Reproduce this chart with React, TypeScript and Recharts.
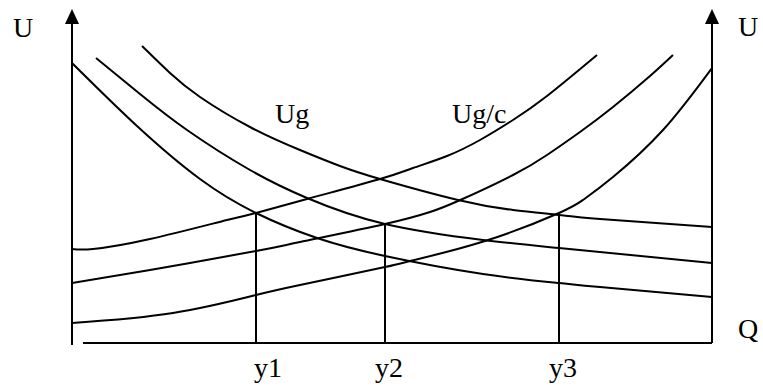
import React from "react";
import { ComposedChart, Line, XAxis, YAxis, ReferenceLine, ReferenceDot } from "recharts";

// Q runs 0..640 along the bottom axis, U runs 0..334 up the vertical axes
// Ug family (falling curves)
const ug1Q = [0, 65, 128, 184, 245, 313, 411, 487, 528, 640];
const ug1U = [280, 217, 164, 130, 105, 87, 69, 60, 56, 46];
const ug2Q = [24, 68, 115, 178, 235, 313, 411, 487, 640];
const ug2U = [285, 249, 213, 173, 145, 119, 103, 95, 80];
const ug3Q = [70, 98, 128, 178, 228, 268, 308, 386, 441, 487, 528, 640];
const ug3U = [297, 270, 246, 216, 193, 177, 164, 143, 133, 128, 124, 116];

// Ug/c family (rising curves)
const ugc1Q = [0, 21, 78, 155, 184, 235, 308, 341, 375, 408, 441, 475, 525];
const ugc1U = [94, 94, 104, 123, 130, 144, 164, 175, 187, 203, 223, 247, 288];
const ugc2Q = [0, 78, 184, 228, 313, 358, 386, 441, 475, 508, 541, 578, 601];
const ugc2U = [60, 73, 92, 101, 119, 131, 142, 168, 188, 211, 236, 267, 288];
const ugc3Q = [0, 101, 184, 228, 313, 338, 413, 487, 511, 541, 591, 640];
const ugc3U = [20, 30, 48, 58, 76, 82, 102, 130, 143, 166, 213, 275];

// equilibrium points y1, y2, y3
const dropLabels = ["y1", "y2", "y3"];
const dropQ = [184, 313, 487];
const dropU = [130, 119, 129];

const toRows = (qs: number[], us: number[]) => qs.map((q, i) => ({ q, u: us[i] }));

const curves = [
  toRows(ug1Q, ug1U),
  toRows(ug2Q, ug2U),
  toRows(ug3Q, ug3U),
  toRows(ugc1Q, ugc1U),
  toRows(ugc2Q, ugc2U),
  toRows(ugc3Q, ugc3U),
];

const FONT = "'Liberation Serif', 'Times New Roman', serif";

const textShape = (txt: string, anchor: "start" | "middle" = "start") => (p: any) => (
  <text x={p.cx} y={p.cy} textAnchor={anchor} fontFamily={FONT} fontSize={28} fill="#000">
    {txt}
  </text>
);

const arrowShape = (p: any) => (
  <polygon
    points={`${p.cx},${p.cy} ${p.cx - 7},${p.cy + 15} ${p.cx + 7},${p.cy + 15}`}
    fill="#000"
  />
);

// label centres under the drop lines
const labelQ = [196, 317, 491];

export default function App() {
  return (
    <div style={{ position: "absolute", left: 0, top: 0, width: 763, height: 387, background: "#fff" }}>
      <ComposedChart width={763} height={387} margin={{ top: 9, right: 51, bottom: 44, left: 72 }}>
        <XAxis type="number" dataKey="q" domain={[0, 640]} hide allowDataOverflow />
        <YAxis yAxisId="left" type="number" domain={[0, 334]} hide allowDataOverflow />

        {/* the two U axes and the Q axis */}
        <ReferenceLine
          yAxisId="left"
          segment={[{ x: 0, y: -2 }, { x: 0, y: 322 }]}
          stroke="#000"
          strokeWidth={2}
          ifOverflow="visible"
        />
        <ReferenceLine
          yAxisId="left"
          segment={[{ x: 640, y: 0 }, { x: 640, y: 322 }]}
          stroke="#000"
          strokeWidth={2}
          ifOverflow="visible"
        />
        <ReferenceLine
          yAxisId="left"
          segment={[{ x: 11, y: 0 }, { x: 640, y: 0 }]}
          stroke="#000"
          strokeWidth={2}
          ifOverflow="visible"
        />

        {dropQ.map((q, i) => (
          <ReferenceLine
            key={dropLabels[i]}
            yAxisId="left"
            segment={[{ x: q, y: 0 }, { x: q, y: dropU[i] }]}
            stroke="#000"
            strokeWidth={2}
            ifOverflow="visible"
          />
        ))}

        {curves.map((rows, i) => (
          <Line
            key={i}
            yAxisId="left"
            data={rows}
            dataKey="u"
            type="natural"
            stroke="#000"
            strokeWidth={2}
            dot={false}
            activeDot={false}
            isAnimationActive={false}
          />
        ))}

        <ReferenceDot yAxisId="left" x={0} y={334} r={0} shape={arrowShape} ifOverflow="visible" />
        <ReferenceDot yAxisId="left" x={640} y={334} r={0} shape={arrowShape} ifOverflow="visible" />

        <ReferenceDot yAxisId="left" x={-59} y={306} r={0} shape={textShape("U")} ifOverflow="visible" />
        <ReferenceDot yAxisId="left" x={666} y={307} r={0} shape={textShape("U")} ifOverflow="visible" />
        <ReferenceDot yAxisId="left" x={666} y={5} r={0} shape={textShape("Q")} ifOverflow="visible" />
        <ReferenceDot yAxisId="left" x={203} y={220} r={0} shape={textShape("Ug")} ifOverflow="visible" />
        <ReferenceDot yAxisId="left" x={380} y={220} r={0} shape={textShape("Ug/c")} ifOverflow="visible" />

        {dropLabels.map((lab, i) => (
          <ReferenceDot
            key={lab}
            yAxisId="left"
            x={labelQ[i]}
            y={-34}
            r={0}
            shape={textShape(lab, "middle")}
            ifOverflow="visible"
          />
        ))}
      </ComposedChart>
    </div>
  );
}
